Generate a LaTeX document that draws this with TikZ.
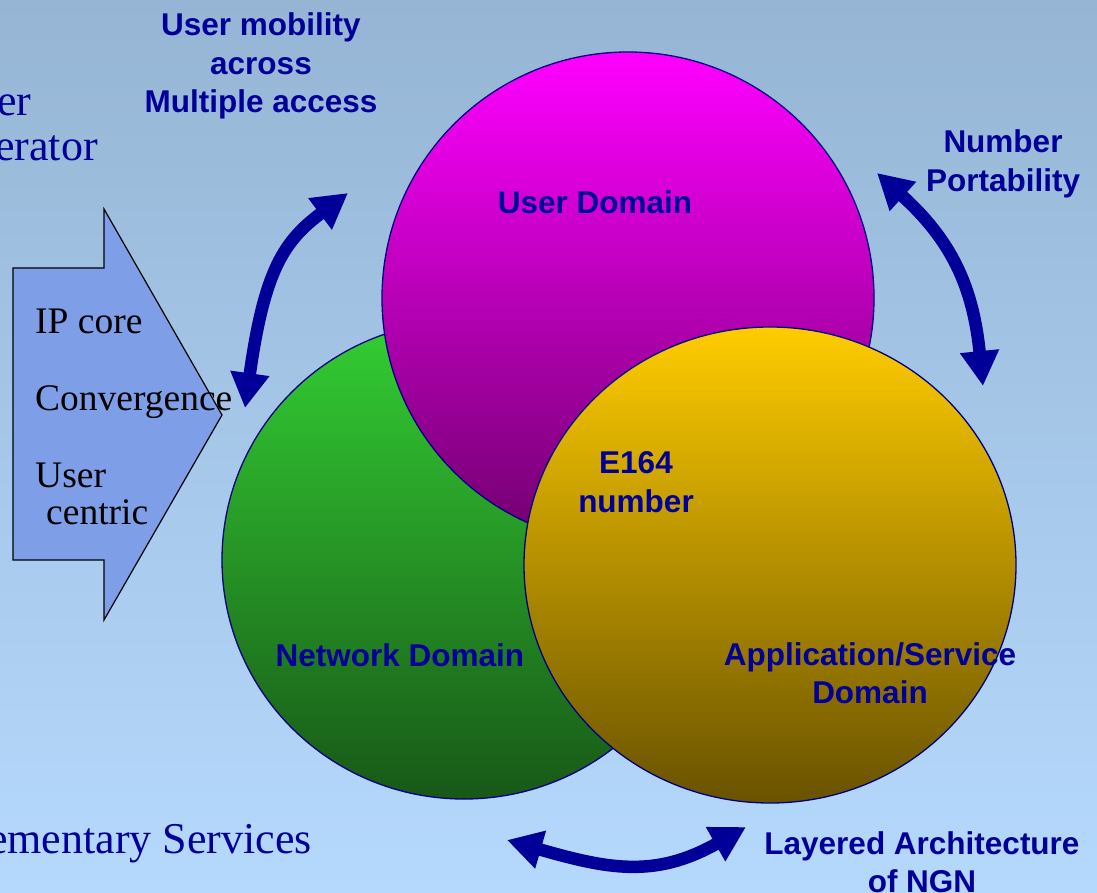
\documentclass[tikz,border=0pt]{standalone}
\usepackage{fontspec}
\setmainfont{Liberation Serif}
\setsansfont{Liberation Sans}
\usepackage{xcolor}
\usepackage{tikz}
\usetikzlibrary{shapes.geometric, arrows.meta, positioning, calc}
\definecolor{navytext}{RGB}{0, 0, 153}
\definecolor{rimblue}{RGB}{0, 0, 128}
\definecolor{bgtop}{RGB}{150, 181, 212}
\definecolor{bgbottom}{RGB}{181, 217, 253}
\definecolor{corefill}{RGB}{127, 158, 232}
\definecolor{usertop}{RGB}{255, 0, 255}
\definecolor{userbot}{RGB}{112, 0, 110}
\definecolor{nettop}{RGB}{51, 206, 51}
\definecolor{netbot}{RGB}{24, 88, 24}
\definecolor{apptop}{RGB}{255, 204, 0}
\definecolor{appbot}{RGB}{105, 82, 0}
\tikzset{
  domainblock/.style={
    ellipse, draw=rimblue, line width=1.3pt, inner sep=0pt
  },
  boldlabel/.style={
    text=navytext, align=center, inner sep=0pt,
    font=\sffamily\bfseries\fontsize{31.5}{38.5}\selectfont
  },
  slidetext/.style={
    text=navytext, anchor=base west, inner sep=0pt,
    font=\fontsize{44}{50}\selectfont
  },
  coretext/.style={
    text=black, anchor=base west, inner sep=0pt,
    font=\fontsize{37.5}{40}\selectfont
  },
  corearrow/.style={
    draw=black, fill=corefill, line width=1.2pt, line join=miter
  },
  swingarrow/.style={
    draw=navytext, line width=12.5pt,
    {Triangle[length=35pt, width=37pt]}-{Triangle[length=35pt, width=37pt]}
  }
}

\begin{document}
\begin{tikzpicture}[x=1pt, y=-1pt]

  % Slide frame and backdrop
  \useasboundingbox (0,0) rectangle (1097,893);
  \clip (0,0) rectangle (1097,893);
  \shade[top color=bgtop, bottom color=bgbottom] (0,0) rectangle (1097,893);

  % Cut-off slide text
  \node[slidetext] (op_line1) at (-3,116) {er};
  \node[slidetext] (op_line2) at (-5,161) {erator};
  \node[slidetext] (supp_line) at (-12,853) {ementary Services};

  % Block arrow with trends
  \draw[corearrow] (13,268) -- (104,268) -- (104,209) -- (222,415)
    -- (104,620) -- (104,560) -- (13,560) -- cycle;
  \node[coretext] (ip_core) at (35,333) {IP core};
  \node[coretext] (converge) at (35,410) {Convergence};
  \node[coretext] (user_c1) at (35,487) {User};
  \node[coretext] (user_c2) at (46,524) {centric};

  % Three domains (back to front)
  \node[domainblock, minimum width=484pt, minimum height=478pt,
    top color=nettop, bottom color=netbot] (net_dom) at (464,560) {};
  \node[domainblock, minimum width=492pt, minimum height=492pt,
    top color=usertop, bottom color=userbot] (user_dom) at (628,298) {};
  \node[domainblock, minimum width=492pt, minimum height=476pt,
    top color=apptop, bottom color=appbot] (app_dom) at (770,565) {};

  % Domain labels
  \node[boldlabel] (user_lbl) at (595,202) {User Domain};
  \node[boldlabel] (e164_lbl) at (636,482) {E164\\number};
  \node[boldlabel] (net_lbl) at (400,655) {Network Domain};
  \node[boldlabel] (app_lbl) at (870,673) {Application/Service\\Domain};

  % Side notes
  \node[boldlabel] (mobility) at (261,66) {User mobility\\across\\Multiple access};
  \node[boldlabel] (portab) at (1003,164) {Number\\Portability};
  \node[boldlabel] (layered) at (922,862) {Layered Architecture\\of NGN};

  % Swing arrows
  \coordinate (mob_low) at (245,408);
  \coordinate (mob_high) at (348,193);
  \draw[swingarrow] (mob_low) .. controls (264.5,269.4) and (284,241) .. (mob_high);

  \coordinate (port_high) at (877,173);
  \coordinate (port_low) at (983,386);
  \draw[swingarrow] (port_high) .. controls (951,240) and (973,286) .. (port_low);

  \coordinate (layer_left) at (507,840);
  \coordinate (layer_right) at (746,827);
  \draw[swingarrow] (layer_left) .. controls (608,869) and (655,878.5) .. (layer_right);

\end{tikzpicture}
\end{document}
